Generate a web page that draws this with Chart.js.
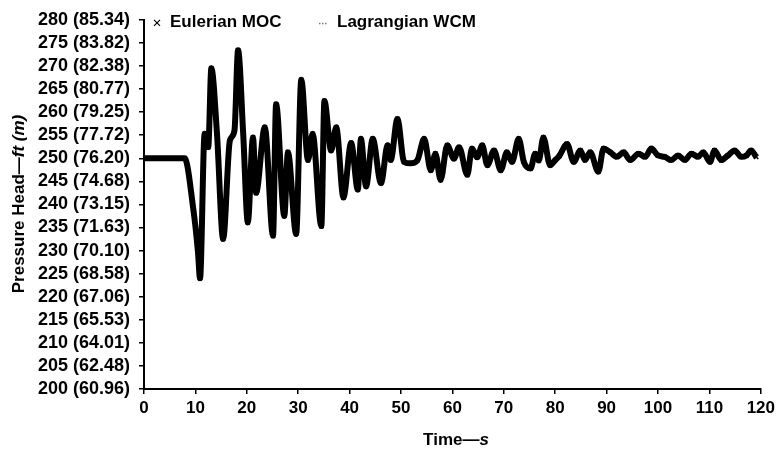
<!DOCTYPE html>
<html>
<head>
<meta charset="utf-8">
<script src="https://cdn.jsdelivr.net/npm/chart.js@4/dist/chart.umd.min.js"></script>
<style>
  html, body { margin: 0; padding: 0; background: #fff; }
  #wrap { width: 779px; height: 451px; }
</style>
</head>
<body>
<div id="wrap"><canvas id="headChart" width="779" height="451"></canvas></div>
<script>
// time (s) and pressure head (ft)
const timeS = [0, 7.9, 9.6, 10.5, 10.9, 11.8, 12.5, 13.1, 14.2, 15.4, 16.7, 17.6, 18.3, 19.3, 20.2,
  21.2, 21.8, 23.5, 25.1, 25.7, 27.3, 28.0, 29.6, 30.6, 31.9, 32.8, 34.5, 35.1, 36.4, 37.4,
  38.8, 40.3, 41.6, 42.2, 43.2, 44.5, 46.1, 47.4, 48.0, 49.3, 50.6, 51.9, 53.2, 54.5, 55.8,
  56.7, 57.7, 59.0, 60.3, 61.3, 62.9, 63.8, 64.8, 65.8, 66.8, 68.1, 69.4, 70.6, 71.6, 72.9,
  73.9, 75.2, 76.1, 76.8, 77.7, 79.0, 80.0, 80.8, 82.3, 83.6, 84.9, 85.8, 86.8, 88.4, 89.4,
  90.7, 92.0, 93.3, 94.6, 96.2, 97.5, 98.7, 100.0, 101.3, 102.6, 103.9, 105.2, 106.5, 107.8,
  108.8, 110.1, 111.0, 112.3, 113.6, 114.9, 116.2, 117.2, 118.1, 119.1];

const eulerianHead = [250, 250, 238.9, 229.7, 224, 255.3, 252.4, 269.5, 255.3, 232.5, 253.8, 256, 273.4, 255.3, 236.1,
  254.5, 242.5, 256.7, 233.2, 261.7, 237.5, 251.3, 233.6, 267, 249.6, 255.3, 235.3, 262.4, 251.7, 256.7,
  241.5, 253.3, 243.2, 254.2, 243.9, 254.2, 244.6, 252.8, 249.6, 258.5, 249.2, 248.9, 249.6, 254.2, 247.4,
  251, 245.3, 252.8, 249.9, 252.4, 246.4, 252.1, 250.2, 252.8, 248.5, 251.7, 247.4, 251.3, 249.2, 254.2,
  249.2, 247.8, 251, 249.5, 254.5, 248.5, 249.6, 250.5, 253.1, 249.2, 251.7, 249.6, 251.3, 247.1, 252.1,
  251.3, 250.3, 251.3, 249.6, 251, 250.3, 252.1, 250.6, 250.3, 249.6, 250.6, 249.6, 251, 250.3,
  251.3, 249.2, 251.7, 249.6, 250.6, 251.7, 250.3, 250.6, 251.7, 250.3];

// the two solutions lie on top of each other in the figure
const lagrangianHead = eulerianHead;

const headTicks = [280, 275, 270, 265, 260, 255, 250, 245, 240, 235, 230, 225, 220, 215, 210, 205, 200];
const headMetres = ['85.34', '83.82', '82.38', '80.77', '79.25', '77.72', '76.20', '74.68', '73.15',
  '71.63', '70.10', '68.58', '67.06', '65.53', '64.01', '62.48', '60.96'];

const FONT = '"Liberation Sans", Arial, sans-serif';

const toXY = (vals) => timeS.map((t, i) => ({ x: t, y: vals[i] }));

// axis titles (with italic units) and the in-plot legend
const decorations = {
  id: 'decorations',
  afterDraw(chart) {
    const ctx = chart.ctx;
    const area = chart.chartArea;
    ctx.save();
    ctx.fillStyle = '#000';
    ctx.textBaseline = 'middle';

    // x title
    ctx.font = 'bold 17px ' + FONT;
    const a = 'Time\u2014';
    const wa = ctx.measureText(a).width;
    ctx.font = 'italic bold 17px ' + FONT;
    const wb = ctx.measureText('s').width;
    let x0 = 456 - (wa + wb) / 2;
    ctx.textAlign = 'left';
    ctx.font = 'bold 17px ' + FONT;
    ctx.fillText(a, x0, 440);
    ctx.font = 'italic bold 17px ' + FONT;
    ctx.fillText('s', x0 + wa, 440);

    // y title
    ctx.save();
    ctx.translate(19, 204);
    ctx.rotate(-Math.PI / 2);
    ctx.font = 'bold 17px ' + FONT;
    const p = 'Pressure Head\u2014';
    const wp = ctx.measureText(p).width;
    ctx.font = 'italic bold 17px ' + FONT;
    const wu = ctx.measureText('ft (m)').width;
    x0 = -(wp + wu) / 2;
    ctx.font = 'bold 17px ' + FONT;
    ctx.fillText(p, x0, 0);
    ctx.font = 'italic bold 17px ' + FONT;
    ctx.fillText('ft (m)', x0 + wp, 0);
    ctx.restore();

    // legend
    const ly = area.top + 3;
    ctx.strokeStyle = '#000';
    ctx.lineWidth = 1.2;
    const cx = area.left + 13;
    ctx.beginPath();
    ctx.moveTo(cx - 3, ly - 3); ctx.lineTo(cx + 3, ly + 3);
    ctx.moveTo(cx - 3, ly + 3); ctx.lineTo(cx + 3, ly - 3);
    ctx.stroke();
    ctx.font = 'bold 17px ' + FONT;
    ctx.fillText('Eulerian MOC', area.left + 26, ly);

    ctx.fillStyle = '#777';
    for (let k = 0; k < 3; k++) {
      ctx.fillRect(area.left + 175 + k * 3, ly, 1.5, 1.5);
    }
    ctx.fillStyle = '#000';
    ctx.fillText('Lagrangian WCM', area.left + 193, ly);
    ctx.restore();
  }
};

new Chart(document.getElementById('headChart'), {
  type: 'line',
  data: {
    datasets: [
      {
        label: 'Eulerian MOC',
        data: toXY(eulerianHead),
        borderColor: '#000',
        backgroundColor: '#000',
        borderWidth: 6,
        pointStyle: 'crossRot',
        pointRadius: 3,
        pointBorderWidth: 1.5,
        cubicInterpolationMode: 'monotone'
      },
      {
        label: 'Lagrangian WCM',
        data: toXY(lagrangianHead),
        borderColor: '#000',
        borderWidth: 1.5,
        borderDash: [1, 2],
        pointRadius: 0,
        cubicInterpolationMode: 'monotone'
      }
    ]
  },
  options: {
    responsive: false,
    animation: false,
    layout: { padding: { left: 0, top: 14, right: 16, bottom: 0 } },
    plugins: {
      legend: { display: false },
      tooltip: { enabled: false }
    },
    scales: {
      x: {
        type: 'linear',
        min: 0,
        max: 120,
        afterFit: (s) => { s.height = 62; },
        ticks: {
          stepSize: 10,
          color: '#000',
          padding: 4,
          maxRotation: 0,
          font: { family: FONT, size: 17, weight: 'bold' }
        },
        grid: { drawOnChartArea: false, color: '#000', tickLength: 5, lineWidth: 1.5 },
        border: { color: '#000', width: 2 }
      },
      y: {
        min: 200,
        max: 280,
        afterFit: (s) => { s.width = 144; },
        afterBuildTicks: (s) => { s.ticks = headTicks.map(v => ({ value: v })); },
        ticks: {
          autoSkip: false,
          color: '#000',
          padding: 9,
          font: { family: FONT, size: 18, weight: 'bold' },
          callback: (v) => {
            const i = headTicks.indexOf(v);
            return i >= 0 ? v + ' (' + headMetres[i] + ')' : '';
          }
        },
        grid: { drawOnChartArea: false, color: '#000', tickLength: 5, lineWidth: 1.5 },
        border: { color: '#000', width: 2 }
      }
    }
  },
  plugins: [decorations]
});
</script>
</body>
</html>
